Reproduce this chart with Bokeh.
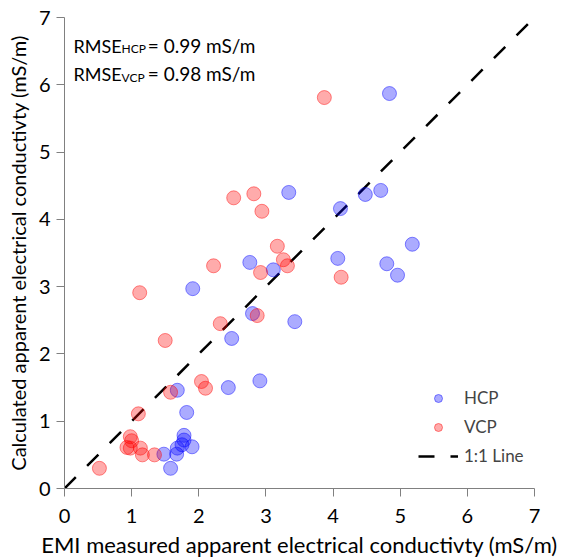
from bokeh.plotting import figure
from bokeh.models import Range1d, Label, Legend, LegendItem, FixedTicker
from bokeh.embed import file_html
from bokeh.resources import INLINE

# HCP: EMI measured (x) vs calculated (y)
hcp_x = [4.84, 3.34, 4.11, 4.48, 4.71, 4.07, 4.80, 4.96, 5.18, 2.76, 3.11, 1.91,
         2.80, 3.43, 2.49, 2.44, 2.91, 1.68, 1.82, 1.78, 1.78, 1.75, 1.68, 1.90,
         1.67, 1.48, 1.58]
hcp_y = [5.87, 4.40, 4.16, 4.37, 4.43, 3.42, 3.34, 3.17, 3.63, 3.36, 3.25, 2.97,
         2.60, 2.48, 2.23, 1.50, 1.60, 1.46, 1.13, 0.79, 0.72, 0.65, 0.60, 0.62,
         0.51, 0.51, 0.30]
# VCP
vcp_x = [3.87, 2.52, 2.82, 2.94, 3.17, 3.26, 3.32, 2.22, 2.92, 4.12, 1.12, 2.87,
         2.32, 1.50, 2.04, 2.10, 1.58, 1.10, 0.98, 1.00, 0.93, 0.98, 1.13, 1.16,
         1.34, 0.52]
vcp_y = [5.81, 4.32, 4.38, 4.12, 3.60, 3.40, 3.31, 3.31, 3.21, 3.14, 2.91, 2.57,
         2.45, 2.20, 1.59, 1.49, 1.43, 1.11, 0.77, 0.71, 0.61, 0.60, 0.60, 0.50,
         0.50, 0.30]
line_x = [0, 7]
line_y = [0, 7]
ticks = [0, 1, 2, 3, 4, 5, 6, 7]
rmse_hcp = "0.99"
rmse_vcp = "0.98"

FONT = "Lato"

p = figure(width=563, height=560, output_backend="svg", toolbar_location=None,
           x_range=Range1d(0, 7), y_range=Range1d(0, 7),
           min_border_left=64, min_border_right=29, min_border_top=17,
           min_border_bottom=72)
p.outline_line_color = None
p.xgrid.visible = False
p.ygrid.visible = False
p.background_fill_color = "white"

for ax in (p.xaxis[0], p.yaxis[0]):
    ax.ticker = FixedTicker(ticks=ticks)
    ax.axis_line_color = "#808080"
    ax.major_tick_line_color = "#808080"
    ax.major_tick_out = 8
    ax.major_tick_in = 0
    ax.minor_tick_line_color = None
    ax.major_label_text_font = FONT
    ax.major_label_text_font_size = "20px"
    ax.major_label_text_color = "black"
    ax.axis_label_text_font = FONT
    ax.axis_label_text_font_style = "normal"
    ax.axis_label_text_color = "black"

p.xaxis.axis_label = "EMI measured apparent electrical conductivty (mS/m)"
p.yaxis.axis_label = "Calculated apparent electrical conductivty (mS/m)"
p.xaxis.axis_label_text_font_size = "22px"
p.yaxis.axis_label_text_font_size = "20px"
p.xaxis.major_label_standoff = 12
p.yaxis.major_label_standoff = 6
p.xaxis.axis_label_standoff = 5
p.yaxis.axis_label_standoff = 6

r_line = p.line(line_x, line_y, line_color="black", line_width=2.5, line_dash="16 16")
r_h = p.scatter(hcp_x, hcp_y, size=14, fill_color="blue", fill_alpha=0.33,
                line_color="blue", line_alpha=0.45, line_width=1)
r_v = p.scatter(vcp_x, vcp_y, size=14, fill_color="red", fill_alpha=0.33,
                line_color="red", line_alpha=0.45, line_width=1)

legend = Legend(items=[LegendItem(label="HCP", renderers=[r_h]),
                       LegendItem(label="VCP", renderers=[r_v]),
                       LegendItem(label="1:1 Line", renderers=[r_line])],
                location=(354, 22), orientation="vertical")
legend.border_line_color = None
legend.background_fill_alpha = 0
legend.padding = 0
legend.margin = 0
legend.spacing = 8
legend.glyph_width = 40
legend.glyph_height = 20
legend.label_height = 20
legend.label_standoff = 6
legend.label_text_font = FONT
legend.label_text_font_size = "17px"
p.add_layout(legend, "center")

def txt(x, y, s, size):
    p.add_layout(Label(x=x, y=y, text=s, text_font=FONT, text_font_size=size,
                       text_baseline="alphabetic", text_align="left",
                       text_color="black"))

# annotation positions (data units)
txt(0.134, 6.583, "RMSE", "18px")
txt(0.85, 6.546, "HCP", "12px")
txt(1.24, 6.583, "= " + rmse_hcp + " mS/m", "19px")
txt(0.134, 6.167, "RMSE", "18px")
txt(0.85, 6.108, "VCP", "12px")
txt(1.24, 6.167, "= " + rmse_vcp + " mS/m", "19px")

open("out.html", "w").write(file_html(p, INLINE))
